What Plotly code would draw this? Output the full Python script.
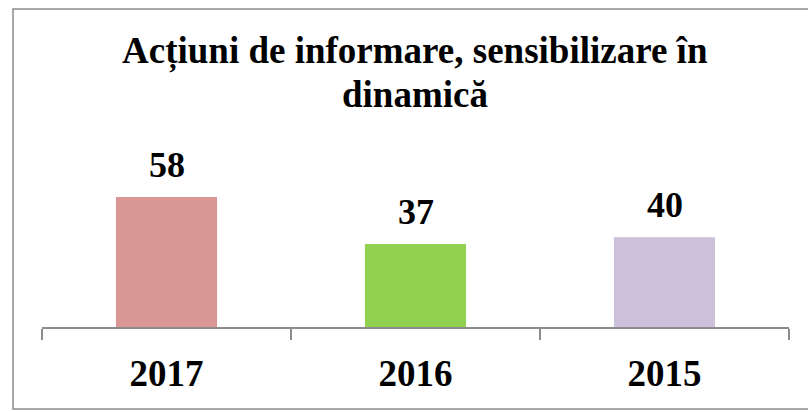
import plotly.graph_objects as go

years = ["2017", "2016", "2015"]
values = [58, 37, 40]
colors = ["#D99694", "#92D050", "#CCC1DA"]
title_lines = ["Acțiuni de informare, sensibilizare în", "dinamică"]

W, H = 808, 412
L, R, T, B = 42, 19, 170, 85
plot_h = H - T - B
plot_w = W - L - R

def py(px):
    return (H - B - px) / plot_h

def pxx(px):
    return (px - L) / plot_w

fig = go.Figure(go.Bar(
    x=years, y=values, marker=dict(color=colors, line=dict(width=0)),
    hoverinfo="x+y",
))

font = "Liberation Serif, Times New Roman, serif"
anns = []
for i, v in enumerate(values):
    anns.append(dict(x=i, y=v, xref="x", yref="y", text=f"<b>{v}</b>",
                     showarrow=False, yanchor="bottom", yshift=10,
                     font=dict(family=font, size=36, color="black")))
for line, yc in zip(title_lines, [51.5, 94.5]):
    anns.append(dict(x=pxx(415), y=py(yc), xref="paper", yref="paper",
                     text=f"<b>{line}</b>", showarrow=False,
                     xanchor="center", yanchor="middle",
                     font=dict(family=font, size=37, color="black")))

fig.update_layout(
    width=W, height=H,
    margin=dict(l=L, r=R, t=T, b=B, pad=0),
    paper_bgcolor="white", plot_bgcolor="white",
    showlegend=False, bargap=0.594,
    annotations=anns,
    shapes=[dict(type="rect", xref="paper", yref="paper",
                 x0=pxx(13), x1=pxx(812), y0=py(409), y1=py(9),
                 line=dict(color="#8C8C8C", width=1.5), layer="below")],
    xaxis=dict(type="category", showline=True, linecolor="#8C8C8C", linewidth=1.5,
               ticks="outside", tickson="boundaries", ticklen=11,
               tickcolor="#8C8C8C", tickwidth=1.5,
               tickfont=dict(family=font, size=37, color="black"),
               tickprefix="<b>", ticksuffix="</b>", ticklabelstandoff=13,
               showgrid=False, zeroline=False, range=[-0.5, 2.5]),
    yaxis=dict(visible=False, range=[0, 70], showgrid=False, zeroline=False),
)

fig.write_html("out.html", config={"displayModeBar": False},
               post_script="document.body.style.margin='0';")
